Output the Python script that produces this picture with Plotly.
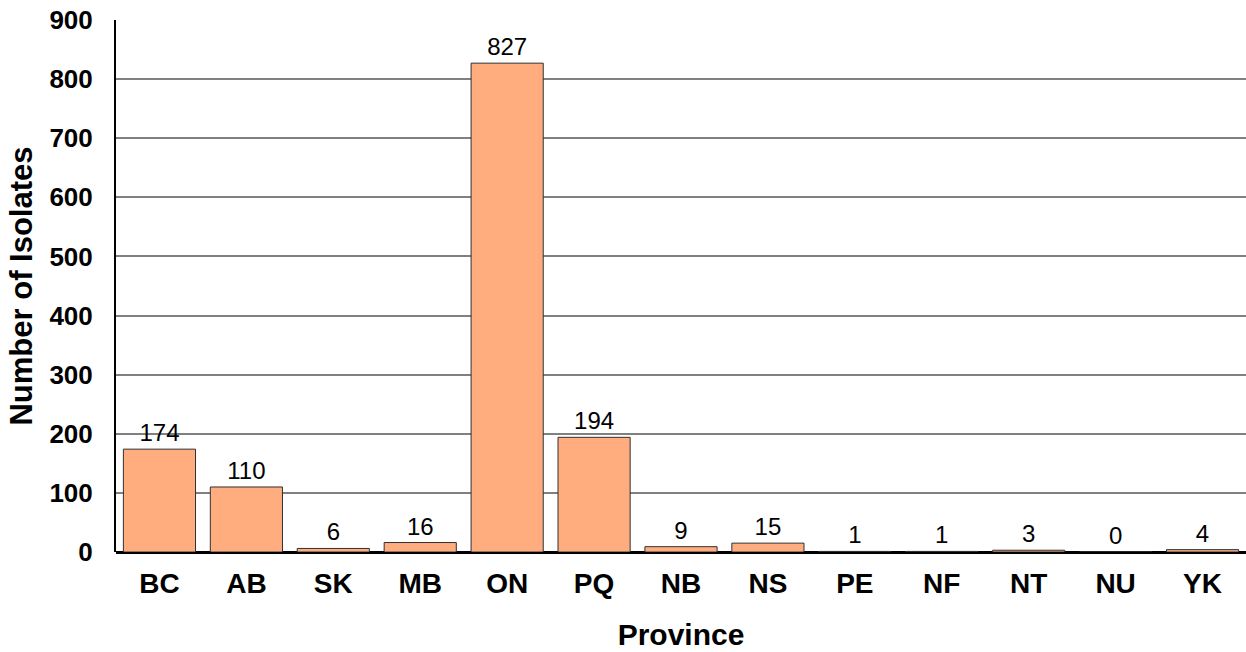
import plotly.graph_objects as go

provinces = ["BC", "AB", "SK", "MB", "ON", "PQ", "NB", "NS", "PE", "NF", "NT", "NU", "YK"]
isolates = [174, 110, 6, 16, 827, 194, 9, 15, 1, 1, 3, 0, 4]
y_ticks = [0, 100, 200, 300, 400, 500, 600, 700, 800, 900]

fig = go.Figure()
fig.add_trace(go.Bar(
    x=provinces,
    y=isolates,
    marker=dict(color="#FFAD7F", line=dict(color="#303030", width=1)),
    text=[str(v) for v in isolates],
    textposition="outside",
    textfont=dict(family="Liberation Sans, Arial, sans-serif", size=24, color="black"),
    cliponaxis=False,
))

fig.update_layout(
    width=1246,
    height=652,
    margin=dict(l=116, r=0, t=20, b=100),
    paper_bgcolor="white",
    plot_bgcolor="white",
    bargap=0.17,
    showlegend=False,
    font=dict(family="Liberation Sans, Arial, sans-serif", color="black"),
)

fig.update_xaxes(
    type="category",
    tickfont=dict(size=28, weight="bold"),
    ticklabelstandoff=12,
    showline=False,
    showgrid=False,
    ticks="",
    title=dict(text="<b>Province</b>", font=dict(size=30), standoff=25),
    automargin=False,
)

fig.update_yaxes(
    range=[0, 900],
    tickvals=y_ticks,
    tickfont=dict(size=26, weight="bold"),
    ticklabelstandoff=16,
    showline=True,
    linecolor="black",
    linewidth=2,
    showgrid=True,
    gridcolor="#808080",
    gridwidth=1.5,
    zeroline=True,
    zerolinecolor="black",
    zerolinewidth=2.5,
    ticks="",
    title=dict(text="<b>Number of Isolates</b>", font=dict(size=31), standoff=8),
    automargin=False,
)

fig.write_html(
    "out.html",
    config={"displayModeBar": False},
    post_script="document.body.style.margin='0';document.body.style.overflow='hidden';",
)
